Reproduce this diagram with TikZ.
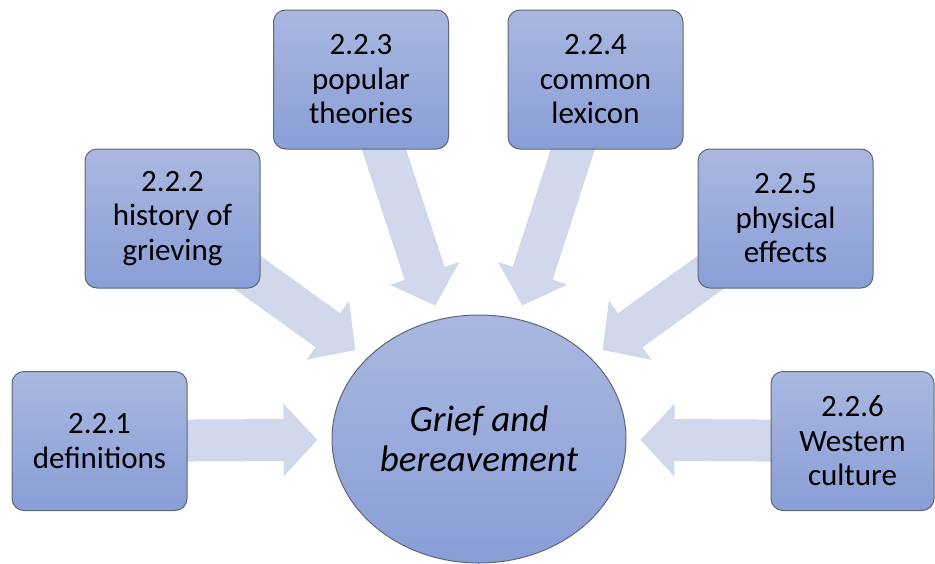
\documentclass[tikz,border=0pt]{standalone}
\usepackage{fontspec}
\setmainfont{Carlito}
\usetikzlibrary{arrows.meta,shapes.geometric,backgrounds}

\definecolor{boxtop}{HTML}{AAB8E0}
\definecolor{boxbot}{HTML}{899ED7}
\definecolor{edgegray}{HTML}{5F6678}
\definecolor{flow}{HTML}{D1D8EC}

\begin{document}
\begin{tikzpicture}[x=1pt,y=-1pt,
  topic/.style={draw=edgegray, line width=1pt, rounded corners=12pt,
    top color=boxtop, bottom color=boxbot,
    minimum width=175pt, minimum height=139pt, inner sep=0pt,
    align=center, font=\fontsize{31}{34.5}\selectfont},
  hub/.style={ellipse, draw=edgegray, line width=1pt,
    top color=boxtop, bottom color=boxbot,
    minimum width=294pt, minimum height=248pt, inner sep=0pt,
    align=center, font=\fontsize{37}{40.5}\selectfont\itshape},
  feed/.style={draw=flow, line width=42pt,
    -{Triangle[width=71pt,length=34pt]}, shorten >=14pt}]

\useasboundingbox (0,0) rectangle (935,563);

% central topic
\node[hub] (core) at (479,439) {Grief and\\bereavement};

% surrounding subsections
\node[topic] (defs)    at (99.5,441)  {2.2.1\\definitions};
\node[topic] (history) at (172.5,218.5) {2.2.2\\history of\\grieving};
\node[topic] (theory)  at (361,79.5)  {2.2.3\\popular\\theories};
\node[topic] (lexicon) at (595.5,79.5) {2.2.4\\common\\lexicon};
\node[topic] (effects) at (785.5,218.5) {2.2.5\\physical\\effects};
\node[topic, minimum width=163pt] (western) at (852.5,441) {2.2.6\\Western\\culture};

% broad arrows feeding into the centre
\begin{scope}[on background layer]
  \foreach \src in {defs,history,theory,lexicon,effects,western}
    \draw[feed] (\src.center) -- (core);
\end{scope}
\end{tikzpicture}
\end{document}
